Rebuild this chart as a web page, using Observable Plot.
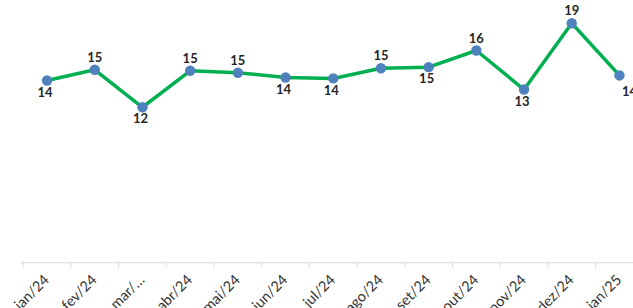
<!DOCTYPE html>
<html>
<head>
<meta charset="utf-8">
<script src="https://cdn.jsdelivr.net/npm/d3@7"></script>
<script src="https://cdn.jsdelivr.net/npm/@observablehq/plot@0.6"></script>
<style>
  html, body { margin: 0; padding: 0; background: #fff; }
  #chart { width: 633px; height: 308px; overflow: hidden; }
</style>
</head>
<body>
<div id="chart"></div>
<script>
const months = ["jan/24","fev/24","mar/24","abr/24","mai/24","jun/24","jul/24","ago/24","set/24","out/24","nov/24","dez/24","jan/25"];
const tickLabels = ["jan/24","fev/24","mar/…","abr/24","mai/24","jun/24","jul/24","ago/24","set/24","out/24","nov/24","dez/24","jan/25"];
const values = [14.10, 14.93, 12.03, 14.85, 14.70, 14.33, 14.26, 15.05, 15.13, 16.42, 13.40, 18.53, 14.49];
const valueLabels = ["14","15","12","15","15","14","14","15","15","16","13","19","14"];
const labelsAbove = ["fev/24","abr/24","mai/24","ago/24","out/24","dez/24"];

const rows = months.map((m, i) => ({month: m, value: values[i], label: valueLabels[i], tick: tickLabels[i]}));
const lastMonth = months[months.length - 1];
const above = rows.filter(d => labelsAbove.includes(d.month));
const below = rows.filter(d => !labelsAbove.includes(d.month) && d.month !== lastMonth);
const last = rows.filter(d => d.month === lastMonth);

const xRange = [22.7, 642.8];
const step = (xRange[1] - xRange[0]) / months.length;

const chart = Plot.plot({
  width: 633,
  height: 308,
  marginTop: 0,
  marginRight: 0,
  marginBottom: 46,
  marginLeft: 21,
  style: {fontFamily: "Lato, 'Open Sans', sans-serif", background: "white", overflow: "hidden"},
  x: {type: "point", domain: months, range: xRange, padding: 0.5, round: false, axis: null},
  y: {domain: [0, 20], range: [262.3, 3.7], axis: null},
  marks: [
    Plot.ruleY([0], {stroke: "#d9d9d9", strokeWidth: 1}),
    Plot.ruleX(rows, {x: "month", y1: 0, y2: 0, dx: -step / 2, insetBottom: -5, stroke: "#d9d9d9", strokeWidth: 1}),
    Plot.text(rows, {x: "month", y: 0, text: "tick", rotate: -45, textAnchor: "end", lineAnchor: "bottom", dx: 3, dy: 18, fontSize: 14.5, fill: "#333"}),
    Plot.line(rows, {x: "month", y: "value", stroke: "#00B050", strokeWidth: 3.5, strokeLinejoin: "miter"}),
    Plot.dot(rows, {x: "month", y: "value", r: 5.2, fill: "#4F81BD", stroke: "none"}),
    Plot.text(above, {x: "month", y: "value", text: "label", dy: -12, fontSize: 13, fontWeight: "bold", fill: "#262626"}),
    Plot.text(below, {x: "month", y: "value", text: "label", dy: 12, dx: -2, fontSize: 13, fontWeight: "bold", fill: "#262626"}),
    Plot.text(last, {x: "month", y: "value", text: "label", dy: 16, dx: 10, fontSize: 13, fontWeight: "bold", fill: "#262626"})
  ]
});
document.getElementById("chart").appendChild(chart);
</script>
</body>
</html>
